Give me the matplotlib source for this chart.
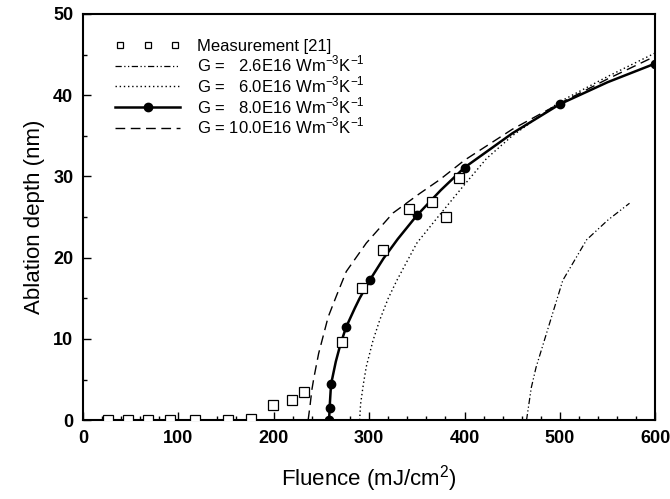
import numpy as np
import matplotlib
matplotlib.use('Agg')
import matplotlib.pyplot as plt
from matplotlib.legend_handler import HandlerLine2D

plt.rcParams['font.family'] = ['Liberation Sans', 'DejaVu Sans']
plt.rcParams['mathtext.fontset'] = 'custom'
plt.rcParams['mathtext.rm'] = 'Liberation Sans'

# Measurement [21]
meas_x = [26, 47, 68, 91, 117, 152, 176, 199, 219, 232, 271, 292, 315, 342, 366, 381, 394]
meas_y = [0, 0, 0, 0, 0, 0, 0.2, 1.9, 2.5, 3.5, 9.6, 16.3, 21.0, 26.0, 26.9, 25.0, 29.8]

# G = 2.6E16
g26_x = [465, 467, 470, 475, 486, 503, 528, 550, 573]
g26_y = [0, 1.6, 4.0, 6.5, 10.7, 17.2, 22.2, 24.6, 26.7]

# G = 6.0E16
g60_x = [290, 291, 294, 297, 304, 311, 320, 329, 350, 372, 400, 423, 450, 500, 550, 600]
g60_y = [0, 2.0, 4.5, 6.6, 9.8, 12.3, 15.0, 17.2, 21.8, 25.0, 29.0, 32.2, 35.0, 39.2, 42.3, 45.2]

# G = 8.0E16 (curve, markers at selected points)
g80_x = [258, 258.5, 260, 265, 270, 276, 285, 290, 301, 315, 330, 350, 375, 400, 450, 500, 550, 600]
g80_y = [0, 1.5, 4.4, 7.2, 9.4, 11.5, 13.8, 15.0, 17.3, 19.9, 22.3, 25.2, 28.3, 31.1, 35.3, 38.9, 41.6, 43.9]
g80_marks = [0, 1, 2, 5, 8, 11, 13, 15, 17]

# G = 10.0E16
g100_x = [236, 238, 240, 242, 247, 257, 266, 276, 297, 325, 353, 374, 400, 450, 500, 550, 600]
g100_y = [0, 1.8, 3.8, 5.2, 8.2, 12.7, 15.4, 18.3, 21.8, 25.5, 27.9, 29.6, 32.0, 35.8, 39.0, 42.0, 44.8]

labels = ['Measurement [21]',
          r'G =   2.6E16 Wm$^{\mathregular{-3}}$K$^{\mathregular{-1}}$',
          r'G =   6.0E16 Wm$^{\mathregular{-3}}$K$^{\mathregular{-1}}$',
          r'G =   8.0E16 Wm$^{\mathregular{-3}}$K$^{\mathregular{-1}}$',
          r'G = 10.0E16 Wm$^{\mathregular{-3}}$K$^{\mathregular{-1}}$']

fig = plt.figure(figsize=(6.7, 4.99), dpi=100)
ax = fig.add_axes([0.124, 0.158, 0.854, 0.814])

meas, = ax.plot(meas_x, meas_y, ls='none', marker='s', ms=7, mfc='white',
                mec='black', mew=0.9, label=labels[0], zorder=4)
l26, = ax.plot(g26_x, g26_y, color='black', lw=0.9, ls=(0, (5, 2, 1, 2, 1, 2)), label=labels[1])
l60, = ax.plot(g60_x, g60_y, color='black', lw=1.0, ls=(0, (1, 2)), label=labels[2])
l80, = ax.plot(g80_x, g80_y, color='black', lw=1.8, marker='o', ms=6,
               markevery=g80_marks, label=labels[3], zorder=3)
l100, = ax.plot(g100_x, g100_y, color='black', lw=1.0, ls=(0, (7, 4)), label=labels[4])

ax.set_xlim(0, 600)
ax.set_ylim(0, 50)
ax.set_xticks(np.arange(0, 601, 100))
ax.set_yticks(np.arange(0, 51, 10))
ax.set_xticks(np.arange(0, 601, 20), minor=True)
ax.set_yticks(np.arange(0, 51, 5), minor=True)
ax.tick_params(which='both', direction='in', width=1.0)
ax.tick_params(which='major', length=6, labelsize=13, pad=7)
ax.tick_params(which='minor', length=3)
for lab in ax.get_xticklabels() + ax.get_yticklabels():
    lab.set_fontweight('bold')
for sp in ax.spines.values():
    sp.set_linewidth(1.5)

ax.set_xlabel(r'Fluence (mJ/cm$^{\mathregular{2}}$)', fontsize=16, labelpad=12)
ax.set_ylabel('Ablation depth (nm)', fontsize=16, labelpad=6)


def small_marker(legline, orig):
    legline.update_from(orig)
    legline.set_markersize(5)


ax.legend(handles=[meas, l26, l60, l80, l100], loc='upper left',
          bbox_to_anchor=(0.03, 0.975), frameon=False, fontsize=12,
          handlelength=3.9, handletextpad=1.0, labelspacing=0.0,
          handler_map={meas: HandlerLine2D(numpoints=3, update_func=small_marker)})

fig.savefig('out.png', dpi=100)
